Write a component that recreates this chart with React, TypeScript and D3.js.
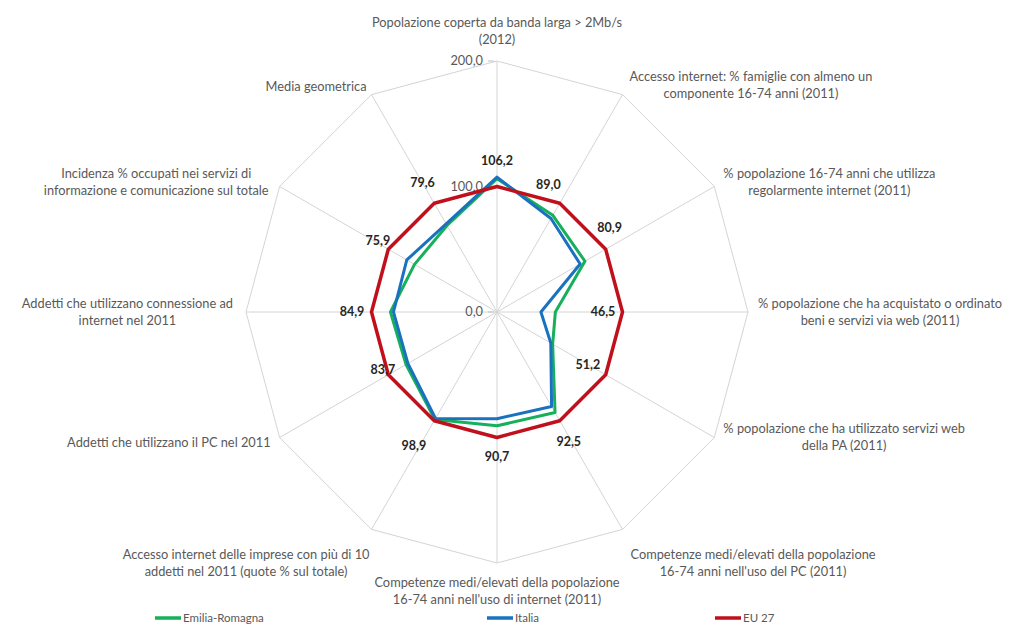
import { useEffect, useRef } from "react";
import * as d3 from "d3";

// axis titles (clockwise from top)
const axisTitles: string[][] = [
  ["Popolazione coperta da banda larga > 2Mb/s", "(2012)"],
  ["Accesso internet: % famiglie con almeno un", "componente 16-74 anni (2011)"],
  ["% popolazione 16-74 anni che utilizza", "regolarmente internet (2011)"],
  ["% popolazione che ha acquistato o ordinato", "beni e servizi via web (2011)"],
  ["% popolazione che ha utilizzato servizi web", "della PA (2011)"],
  ["Competenze medi/elevati della popolazione", "16-74 anni nell'uso del PC (2011)"],
  ["Competenze medi/elevati della popolazione", "16-74 anni nell'uso di internet (2011)"],
  ["Accesso internet delle imprese con più di 10", "addetti nel 2011 (quote % sul totale)"],
  ["Addetti che utilizzano il PC nel 2011"],
  ["Addetti che utilizzano connessione ad", "internet nel 2011"],
  ["Incidenza % occupati nei servizi di", "informazione e comunicazione sul totale"],
  ["Media geometrica"],
];

const emiliaRomagna = [106.2, 89.0, 80.9, 46.5, 51.2, 92.5, 90.7, 98.9, 83.7, 84.9, 75.9, 79.6];
const italia = [107.5, 86.0, 76.5, 35.0, 49.5, 87.0, 85.0, 98.0, 82.0, 82.5, 83.0, 81.0];
const eu27 = [100, 100, 100, 100, 100, 100, 100, 100, 100, 100, 100, 100];

const ticks = [0, 100, 200];
const seriesNames = ["Emilia-Romagna", "Italia", "EU 27"];
const seriesColors = ["#16b05a", "#1a72bf", "#c0101c"];

// layout: axis-title placement [gap from vertex, vertical shift]
const titleLayout: [number, number][] = [
  [0, -30], [7, -10], [9, -4], [10, 0], [9, 0], [8, 34],
  [0, 28], [2, 34], [9, 5], [13, 0], [11, -4], [5, -8],
];
// layout: data label placement [angle deg, radius px]
const valueLabelLayout: [number, number][] = [
  [0, 151], [22, 137], [53, 141], [90, 106], [120, 105], [151, 148],
  [180, 145], [212, 157], [243, 128], [270, 145], [301, 139], [330, 149],
];
const legendX = [155, 487, 715];

const W = 1017;
const H = 635;
const cx = 497;
const cy = 312;
const R = 251;
const FONT = "Lato, 'Open Sans', sans-serif";
const TXT = 12.8;

export default function App() {
  const ref = useRef<SVGSVGElement>(null);

  useEffect(() => {
    document.body.style.margin = "0";
    if (!ref.current) return;
    const svg = d3.select(ref.current);
    svg.selectAll("*").remove();

    const n = axisTitles.length;
    const r = d3.scaleLinear().domain([0, 200]).range([0, R]);
    const ang = (i: number) => (i * 2 * Math.PI) / n;
    const pt = (i: number, v: number): [number, number] => [
      cx + r(v) * Math.sin(ang(i)),
      cy - r(v) * Math.cos(ang(i)),
    ];

    svg.append("rect").attr("width", W).attr("height", H).attr("fill", "#fff");

    const g = svg.append("g");

    // grid polygons
    ticks.filter((t) => t > 0).forEach((t) => {
      g.append("polygon")
        .attr("points", d3.range(n).map((i) => pt(i, t).join(",")).join(" "))
        .attr("fill", "none")
        .attr("stroke", "#d4d4d4")
        .attr("stroke-width", 1);
    });

    // spokes
    g.selectAll("line.spoke")
      .data(d3.range(n))
      .join("line")
      .attr("class", "spoke")
      .attr("x1", cx)
      .attr("y1", cy)
      .attr("x2", (i) => pt(i, 200)[0])
      .attr("y2", (i) => pt(i, 200)[1])
      .attr("stroke", "#d4d4d4")
      .attr("stroke-width", 1);

    // tick marks + labels on the top axis
    ticks.forEach((t) => {
      const y = cy - r(t);
      g.append("line")
        .attr("x1", cx - 9).attr("x2", cx - 3)
        .attr("y1", y).attr("y2", y)
        .attr("stroke", "#bfbfbf");
      g.append("text")
        .attr("x", cx - 14)
        .attr("y", y)
        .attr("dy", "0.35em")
        .attr("text-anchor", "end")
        .attr("font-family", FONT)
        .attr("font-size", TXT)
        .attr("fill", "#595959")
        .text(d3.format(".1f")(t).replace(".", ","));
    });

    // series
    const line = d3.lineRadial<number>()
      .angle((_d, i) => ang(i))
      .radius((d) => r(d))
      .curve(d3.curveLinearClosed);

    const series = [emiliaRomagna, italia, eu27];
    const sg = g.append("g").attr("transform", `translate(${cx},${cy})`);
    series.forEach((s, k) => {
      sg.append("path")
        .attr("d", line(s))
        .attr("fill", "none")
        .attr("stroke", seriesColors[k])
        .attr("stroke-width", k === 2 ? 3.5 : 3)
        .attr("stroke-linejoin", "round");
    });

    // data labels (Emilia-Romagna values)
    g.selectAll("text.val")
      .data(emiliaRomagna)
      .join("text")
      .attr("class", "val")
      .attr("x", (_d, i) => cx + valueLabelLayout[i][1] * Math.sin((valueLabelLayout[i][0] * Math.PI) / 180))
      .attr("y", (_d, i) => cy - valueLabelLayout[i][1] * Math.cos((valueLabelLayout[i][0] * Math.PI) / 180))
      .attr("dy", "0.35em")
      .attr("text-anchor", "middle")
      .attr("font-family", FONT)
      .attr("font-size", 12.5)
      .attr("font-weight", "bold")
      .attr("fill", "#262626")
      .text((d) => d3.format(".1f")(d).replace(".", ","));

    // axis titles
    const lineH = 17;
    axisTitles.forEach((lines, i) => {
      const [vx, vy] = pt(i, 200);
      const [gap, shift] = titleLayout[i];
      const t = g.append("text")
        .attr("font-family", FONT)
        .attr("font-size", TXT)
        .attr("fill", "#595959")
        .attr("text-anchor", "middle");
      const spans = lines.map((l) => t.append("tspan").text(l));
      const w = d3.max(spans, (s) => (s.node() as SVGTSpanElement).getComputedTextLength()) || 0;
      const s = Math.sin(ang(i));
      let x = vx;
      if (s > 0.01) x = vx + gap + w / 2;
      else if (s < -0.01) x = vx - gap - w / 2;
      const yc = vy + shift;
      spans.forEach((sp, k) => {
        sp.attr("x", x)
          .attr("y", yc + (k - (lines.length - 1) / 2) * lineH)
          .attr("dy", "0.35em");
      });
    });

    // legend
    const lg = svg.append("g");
    seriesNames.forEach((name, k) => {
      const x = legendX[k];
      lg.append("line")
        .attr("x1", x).attr("x2", x + 26)
        .attr("y1", 618).attr("y2", 618)
        .attr("stroke", seriesColors[k])
        .attr("stroke-width", 3.5);
      lg.append("text")
        .attr("x", x + 28)
        .attr("y", 618)
        .attr("dy", "0.35em")
        .attr("font-family", FONT)
        .attr("font-size", 11.5)
        .attr("fill", "#595959")
        .text(name);
    });
  }, []);

  return <svg ref={ref} width={W} height={H} style={{ display: "block" }} />;
}
